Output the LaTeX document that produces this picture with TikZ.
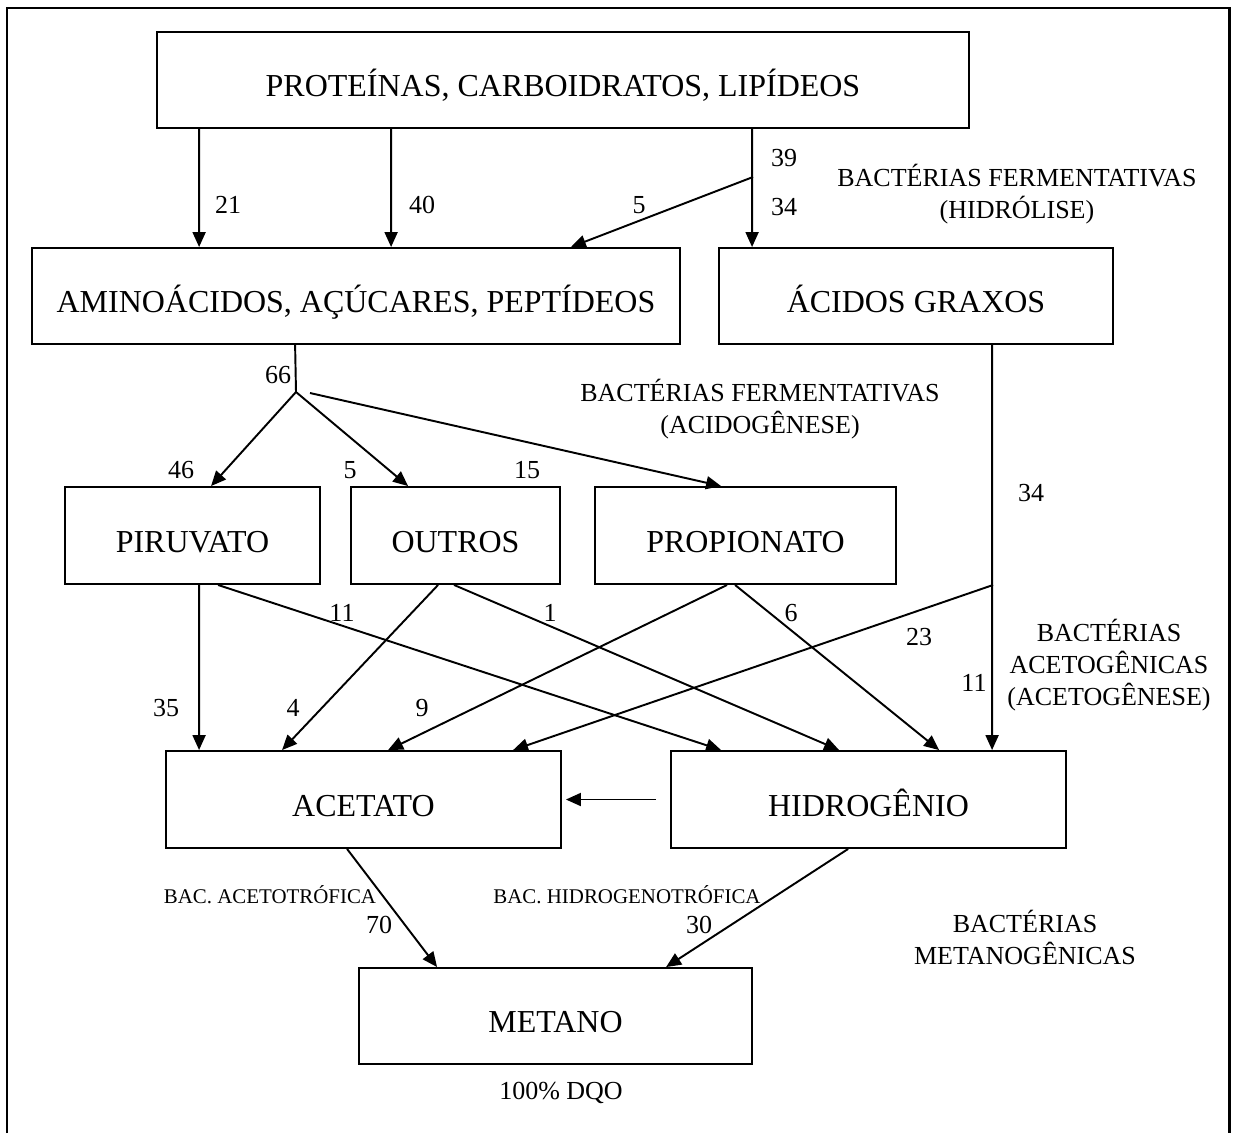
\documentclass[tikz,border=0pt]{standalone}
\usepackage{fontspec}
\setmainfont{Liberation Serif}
\usepackage{tikz}
\usetikzlibrary{arrows.meta, calc}

\begin{document}
\begin{tikzpicture}[x=0.02cm, y=-0.02cm,
    box/.style={draw, line width=1.1pt, inner sep=0pt, text height=0.66cm, text depth=0pt,
      font=\fontsize{18.2}{20}\selectfont},
    lbl/.style={font=\fontsize{14.8}{18.2}\selectfont, align=center, inner sep=0pt},
    sml/.style={font=\fontsize{11.9}{13}\selectfont, inner sep=0pt},
    lin/.style={line width=1.1pt},
    arr/.style={line width=1.1pt, -{Triangle[length=3mm, width=2.6mm]}}]
  \useasboundingbox (0,0) rectangle (1236,1133);
  % frame
  \draw[line width=1.7pt] (7,1133) |- (1229,8) -- (1229,1133);
  % boxes
  \node[box, minimum width=16.24cm, minimum height=1.92cm] (pro) at (563,80) {PROTEÍNAS, CARBOIDRATOS, LIPÍDEOS};
  \node[box, minimum width=12.96cm, minimum height=1.92cm] (amino) at (356,296) {AMINOÁCIDOS, AÇÚCARES, PEPTÍDEOS};
  \node[box, minimum width=7.88cm, minimum height=1.92cm] (graxos) at (916,296) {ÁCIDOS GRAXOS};
  \node[box, minimum width=5.1cm, minimum height=1.94cm] (piru) at (192.5,535.5) {PIRUVATO};
  \node[box, minimum width=4.18cm, minimum height=1.94cm] (outros) at (455.5,535.5) {OUTROS};
  \node[box, minimum width=6.02cm, minimum height=1.94cm] (propio) at (745.5,535.5) {PROPIONATO};
  \node[box, minimum width=7.9cm, minimum height=1.94cm] (acetato) at (363.5,799.5) {ACETATO};
  \node[box, minimum width=7.9cm, minimum height=1.94cm] (hidro) at (868.5,799.5) {HIDROGÊNIO};
  \node[box, minimum width=7.86cm, minimum height=1.92cm] (metano) at (555.5,1016) {METANO};
  % hidrolise
  \draw[arr] ($(pro.south west)+(43,0)$) -- ($(amino.north west)+(168,0)$);
  \draw[arr] ($(pro.south west)+(235,0)$) -- ($(amino.north west)+(360,0)$);
  \draw[arr] ($(pro.south west)+(596,0)$) -- ($(graxos.north west)+(34,0)$);
  \coordinate (h1) at (753,177);
  \draw[arr] (h1) -- ($(amino.north east)+(-110,0)$);
  \node[lbl] (n21) at (228,205) {21};
  \node[lbl] (n40) at (422,205) {40};
  \node[lbl] (n39) at (784,158) {39};
  \node[lbl] (n34a) at (784,207) {34};
  \node[lbl] (n5a) at (639,205) {5};
  \node[lbl] (hidrolise) at (1017,194) {BACTÉRIAS FERMENTATIVAS\\(HIDRÓLISE)};
  % acidogenese
  \coordinate (h2) at (296,392);
  \draw[lin] ($(amino.south west)+(264,0)$) -- (h2);
  \draw[arr] (h2) -- ($(piru.north west)+(147,0)$);
  \draw[arr] (h2) -- ($(outros.north west)+(58,0)$);
  \draw[arr] ($(h2)+(14,1)$) -- ($(propio.north west)+(127,0)$);
  \node[lbl] (n66) at (278,375) {66};
  \node[lbl] (n46) at (181,470) {46};
  \node[lbl] (n5b) at (350,470) {5};
  \node[lbl] (n15) at (527,470) {15};
  \node[lbl] (acido) at (760,409) {BACTÉRIAS FERMENTATIVAS\\(ACIDOGÊNESE)};
  % acetogenese
  \coordinate (h3) at (993,585);
  \draw[arr] ($(graxos.south west)+(274,0)$) -- ($(hidro.north west)+(322,0)$);
  \draw[arr] (h3) -- ($(acetato.north west)+(348,0)$);
  \draw[arr] ($(piru.south west)+(135,0)$) -- ($(acetato.north west)+(34,0)$);
  \draw[arr] ($(piru.south west)+(154,0)$) -- ($(hidro.north west)+(51,0)$);
  \draw[arr] ($(outros.south west)+(88,0)$) -- ($(acetato.north west)+(117,0)$);
  \draw[arr] ($(outros.south west)+(104,0)$) -- ($(hidro.north west)+(169,0)$);
  \draw[arr] ($(propio.south west)+(133,0)$) -- ($(acetato.north west)+(223,0)$);
  \draw[arr] ($(propio.south west)+(141,0)$) -- ($(hidro.north west)+(269,0)$);
  \draw[arr] ($(hidro.west)+(-14,0)$) -- ($(acetato.east)+(4,0)$);
  \node[lbl] (n34b) at (1031,493) {34};
  \node[lbl] (n11a) at (342,613) {11};
  \node[lbl] (n1) at (550,613) {1};
  \node[lbl] (n6) at (791,613) {6};
  \node[lbl] (n23) at (919,637) {23};
  \node[lbl] (n11b) at (974,683) {11};
  \node[lbl] (n35) at (166,708) {35};
  \node[lbl] (n4) at (293,708) {4};
  \node[lbl] (n9) at (422,708) {9};
  \node[lbl] (acetog) at (1109,665) {BACTÉRIAS\\ACETOGÊNICAS\\(ACETOGÊNESE)};
  % metanogenese
  \draw[arr] ($(acetato.south west)+(182,0)$) -- ($(metano.north west)+(79,0)$);
  \draw[arr] ($(hidro.south west)+(178,0)$) -- ($(metano.north west)+(308,0)$);
  \node[sml] (bacace) at (270,895) {BAC. ACETOTRÓFICA};
  \node[sml] (bachid) at (627,895) {BAC. HIDROGENOTRÓFICA};
  \node[lbl] (n70) at (379,925) {70};
  \node[lbl] (n30) at (699,925) {30};
  \node[lbl] (metanog) at (1025,937) {BACTÉRIAS\\METANOGÊNICAS};
  \node[lbl] (dqo) at (561,1093) {100\% DQO};
\end{tikzpicture}
\end{document}
